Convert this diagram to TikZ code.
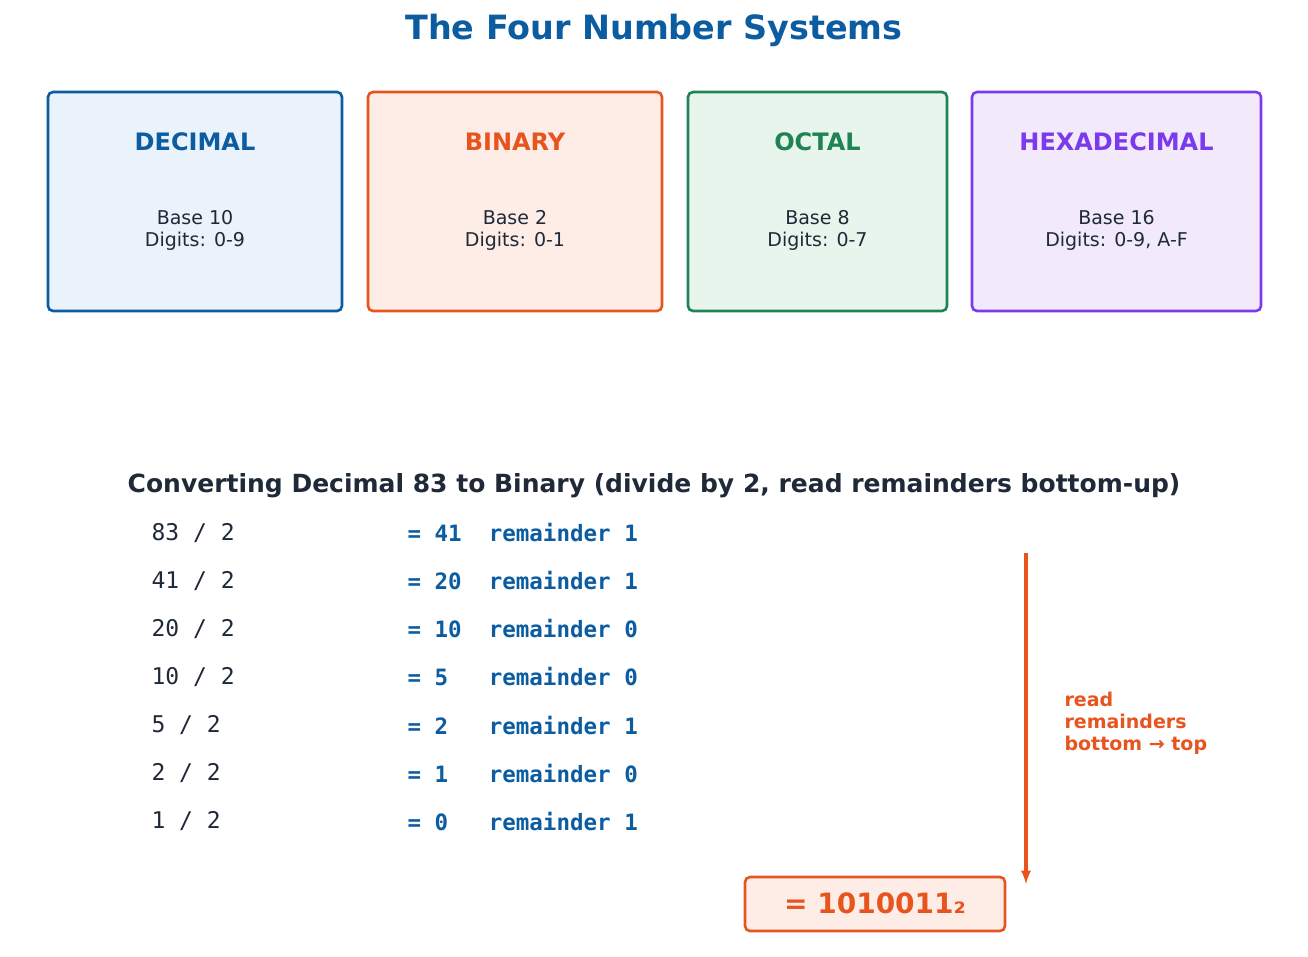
\documentclass[tikz,border=0pt]{standalone}
\usepackage{fontspec}
\setmainfont{DejaVu Sans}
\setmonofont{DejaVu Sans Mono}
\begin{document}
\definecolor{cblue}{HTML}{0B5CA0}
\definecolor{corange}{HTML}{E8541E}
\definecolor{cgreen}{HTML}{1E8454}
\definecolor{cpurple}{HTML}{7C3AED}
\definecolor{fblue}{HTML}{EAF2FB}
\definecolor{forange}{HTML}{FDEDE6}
\definecolor{fgreen}{HTML}{E8F5EC}
\definecolor{fpurple}{HTML}{F2EAFB}
\definecolor{ink}{HTML}{1F2937}
\begin{tikzpicture}[x=1pt,y=-1pt,
 card/.style={draw=#1,line width=2.6pt,rounded corners=5pt},
 ctitle/.style={font=\fontsize{24}{28}\selectfont\bfseries,text=#1},
 cbody/.style={font=\fontsize{19}{22}\selectfont,text=ink,align=center},
 lhs/.style={font=\ttfamily\fontsize{23}{26}\selectfont,text=ink,anchor=west},
 rhs/.style={font=\ttfamily\bfseries\fontsize{22.5}{26}\selectfont,text=cblue,anchor=west}]
\useasboundingbox (0,0) rectangle (1308,956);
\node[font=\fontsize{33.4}{38}\selectfont\bfseries,text=cblue] (title) at (654,30) {The Four Number Systems};
\foreach \n/\xa/\xb/\c/\f/\t/\b in {dec/48/342/cblue/fblue/DECIMAL/{Base 10\\Digits: 0-9},
 bin/368/662/corange/forange/BINARY/{Base 2\\Digits: 0-1},
 oct/688/947/cgreen/fgreen/OCTAL/{Base 8\\Digits: 0-7},
 hex/972/1261/cpurple/fpurple/HEXADECIMAL/{Base 16\\Digits: 0-9, A-F}}{
 \draw[card=\c,fill=\f] (\xa,92) rectangle (\xb,311);
 \node[ctitle=\c] (\n t) at ({(\xa+\xb)/2},142) {\t};
 \node[cbody] (\n b) at ({(\xa+\xb)/2},230) {\b};
}
\node[font=\fontsize{25}{30}\selectfont\bfseries,text=ink] (head) at (654,486) {Converting Decimal 83 to Binary (divide by 2, read remainders bottom-up)};
\foreach \i/\l/\r in {0/{83 {/} 2}/{= 41\ \ remainder 1},1/{41 {/} 2}/{= 20\ \ remainder 1},2/{20 {/} 2}/{= 10\ \ remainder 0},3/{10 {/} 2}/{= 5\ \ \ remainder 0},4/{5 {/} 2}/{= 2\ \ \ remainder 1},5/{2 {/} 2}/{= 1\ \ \ remainder 0},6/{1 {/} 2}/{= 0\ \ \ remainder 1}}{
 \node[lhs] (l\i) at (148,{533+48*\i}) {\l};
 \node[rhs] (r\i) at (404,{533+48*\i}) {\r};
}
\coordinate (as) at (1026,553);
\coordinate (ae) at (1026,884);
\draw[corange,line width=3.5pt,-latex] (as) -- (ae);
\node[anchor=west,align=left,font=\fontsize{19}{22}\selectfont\bfseries,text=corange] (lab) at (1061,723) {read\\remainders\\bottom → top};
\draw[corange,line width=2.6pt,fill=forange,rounded corners=5pt] (745,877) rectangle (1005,931);
\node[font=\fontsize{28}{32}\selectfont\bfseries,text=corange] (res) at (875,903) {= 1010011₂};
\end{tikzpicture}
\end{document}
